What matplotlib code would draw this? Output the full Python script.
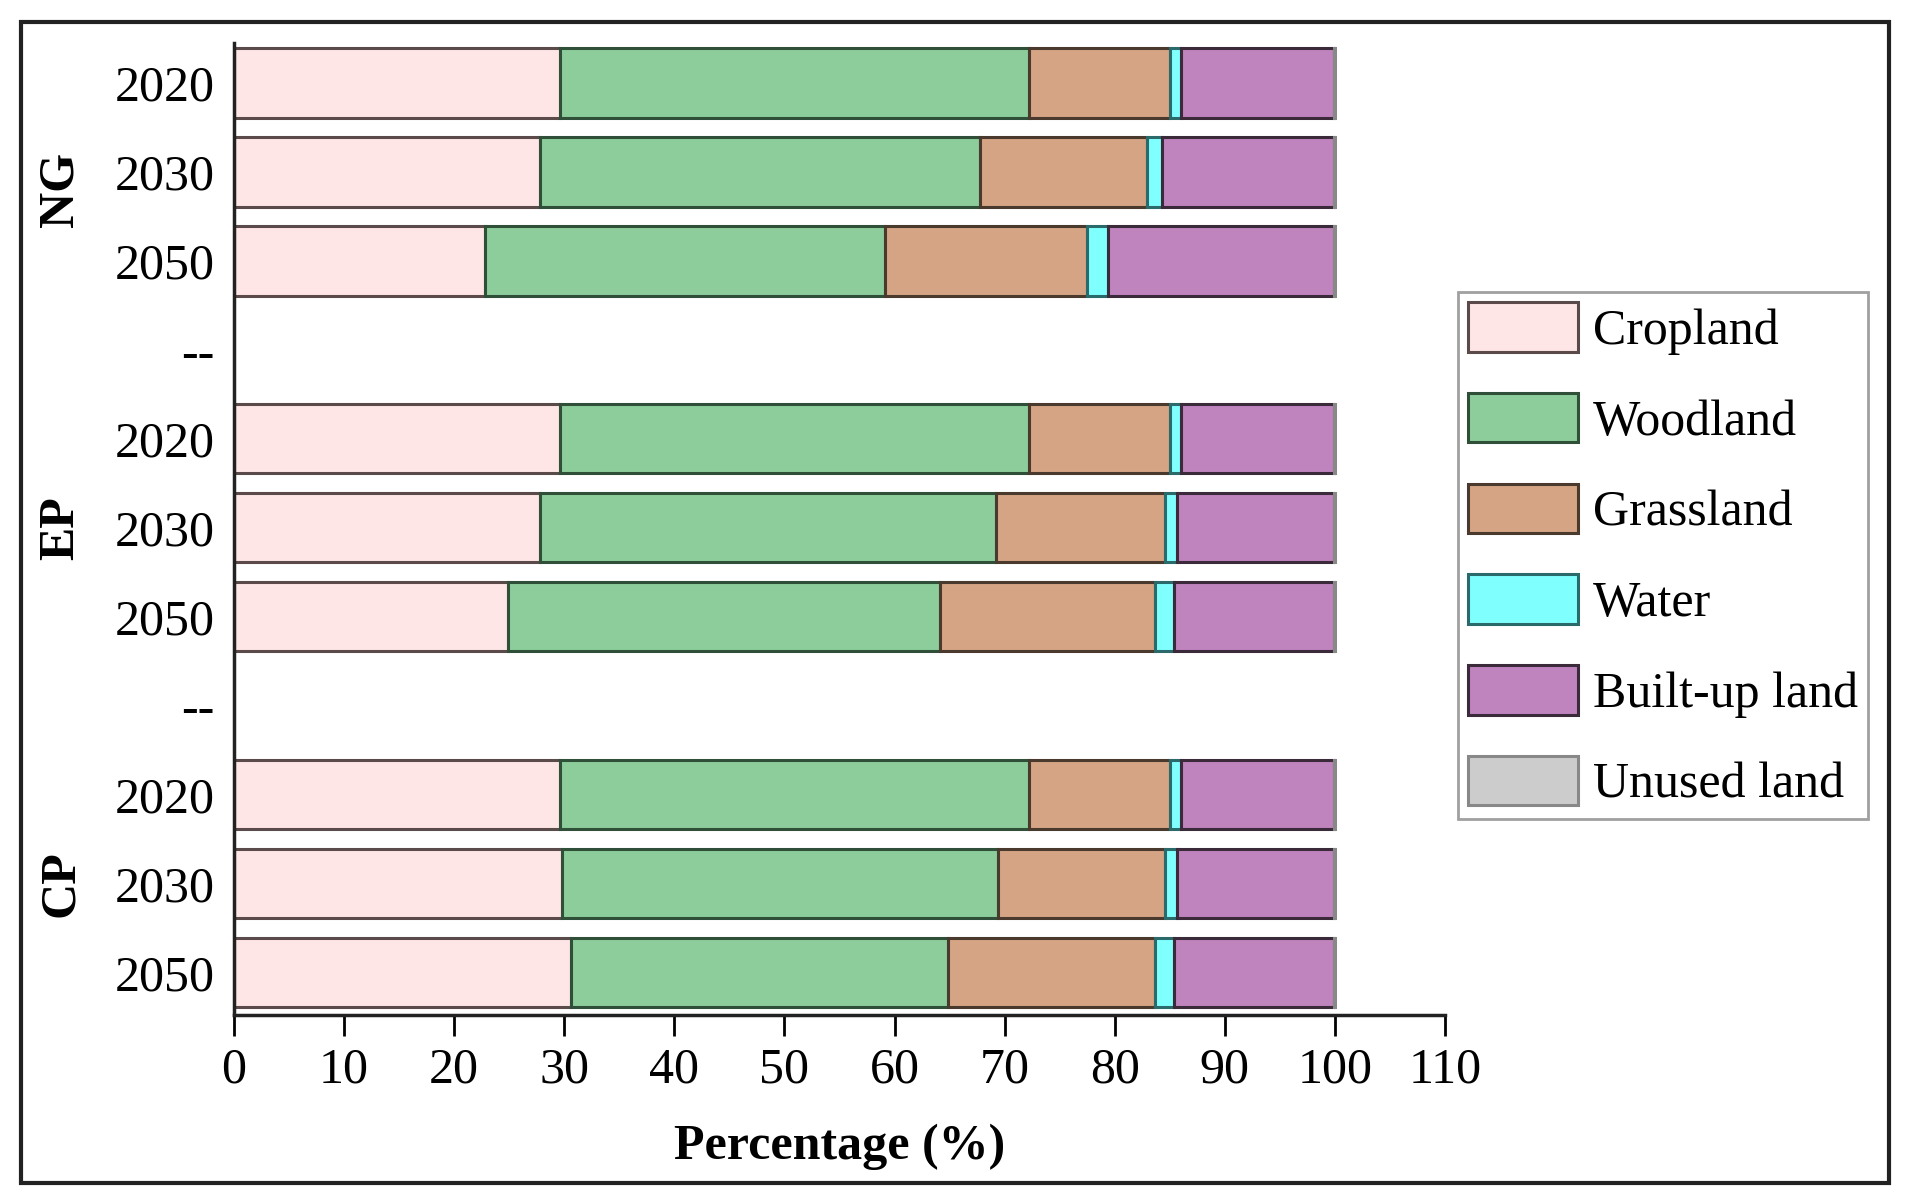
import matplotlib
matplotlib.use("Agg")
import matplotlib.pyplot as plt
from matplotlib.patches import Rectangle, Patch

plt.rcParams['font.family'] = ['Liberation Serif', 'DejaVu Serif']

# ---- data ----
row_labels = ["2020", "2030", "2050", "--", "2020", "2030", "2050", "--", "2020", "2030", "2050"]
groups = ["NG", "EP", "CP"]
group_rows = [1.2, 5, 9]
bar_rows = [0, 1, 2, 4, 5, 6, 8, 9, 10]

categories = ["Cropland", "Woodland", "Grassland", "Water", "Built-up land", "Unused land"]
cropland = [29.6, 27.8, 22.8, 29.6, 27.8, 24.9, 29.6, 29.8, 30.6]
woodland = [42.6, 40.0, 36.3, 42.6, 41.4, 39.2, 42.6, 39.6, 34.3]
grassland = [12.8, 15.1, 18.4, 12.8, 15.4, 19.6, 12.8, 15.2, 18.8]
water = [1.0, 1.4, 1.9, 1.0, 1.1, 1.7, 1.0, 1.1, 1.7]
builtup = [13.9, 15.6, 20.5, 13.9, 14.2, 14.5, 13.9, 14.2, 14.5]
unused = [0.1, 0.1, 0.1, 0.1, 0.1, 0.1, 0.1, 0.1, 0.1]
series = [cropland, woodland, grassland, water, builtup, unused]

colors = ["#FFE6E6", "#8CCD9B", "#D4A484", "#80FFFF", "#BF83BD", "#CCCCCC"]
edges = ["#5a4a4a", "#2f4f38", "#4a3a2e", "#2a6a6a", "#3a2a3a", "#888888"]

W, H = 1910, 1203
fig = plt.figure(figsize=(W / 100, H / 100), dpi=100)
ax = fig.add_axes([234 / W, 1 - 1015 / H, (1445 - 234) / W, (1015 - 43) / H])

left = [0.0] * len(bar_rows)
for vals, c, e, name in zip(series, colors, edges, categories):
    ax.barh(bar_rows, vals, left=left, height=0.78, color=c, edgecolor=e,
            linewidth=2.2, label=name)
    left = [l + v for l, v in zip(left, vals)]

ax.set_xlim(0, 110)
ax.set_ylim(10.48, -0.45)
ax.set_xticks(range(0, 111, 10))
ax.set_yticks(range(len(row_labels)))
ax.set_yticklabels(row_labels)
ax.tick_params(axis='y', length=0, pad=14, labelsize=36)
ax.tick_params(axis='x', direction='out', length=15, width=2, pad=8, labelsize=36)
for s in ['top', 'right']:
    ax.spines[s].set_visible(False)
for s in ['left', 'bottom']:
    ax.spines[s].set_linewidth(2.5)
    ax.spines[s].set_color('#222222')
ax.spines['bottom'].set_bounds(0, 110)

for g, r in zip(groups, group_rows):
    ax.text(-0.143, r, g, transform=ax.get_yaxis_transform(), rotation=90,
            ha='center', va='center', fontsize=36, fontweight='bold')

ax.set_xlabel("Percentage (%)", fontsize=36, fontweight='bold', labelpad=22)

handles = [Patch(facecolor=c, edgecolor=e, linewidth=2.2) for c, e in zip(colors, edges)]
leg = fig.legend(handles, categories, loc='upper left',
                 bbox_to_anchor=(1458 / W, 1 - 292 / H), fontsize=36,
                 handlelength=2.2, handleheight=1.15, labelspacing=0.76,
                 handletextpad=0.3, borderpad=0.2, borderaxespad=0,
                 fancybox=False, frameon=True)
leg.get_frame().set_edgecolor('#888888')
leg.get_frame().set_linewidth(2)

fig.patches.append(Rectangle((21 / W, 1 - 1183 / H), (1889 - 21) / W, (1183 - 22) / H,
                             transform=fig.transFigure, fill=False,
                             edgecolor='#222222', linewidth=3))

fig.savefig("out.png", dpi=100)
